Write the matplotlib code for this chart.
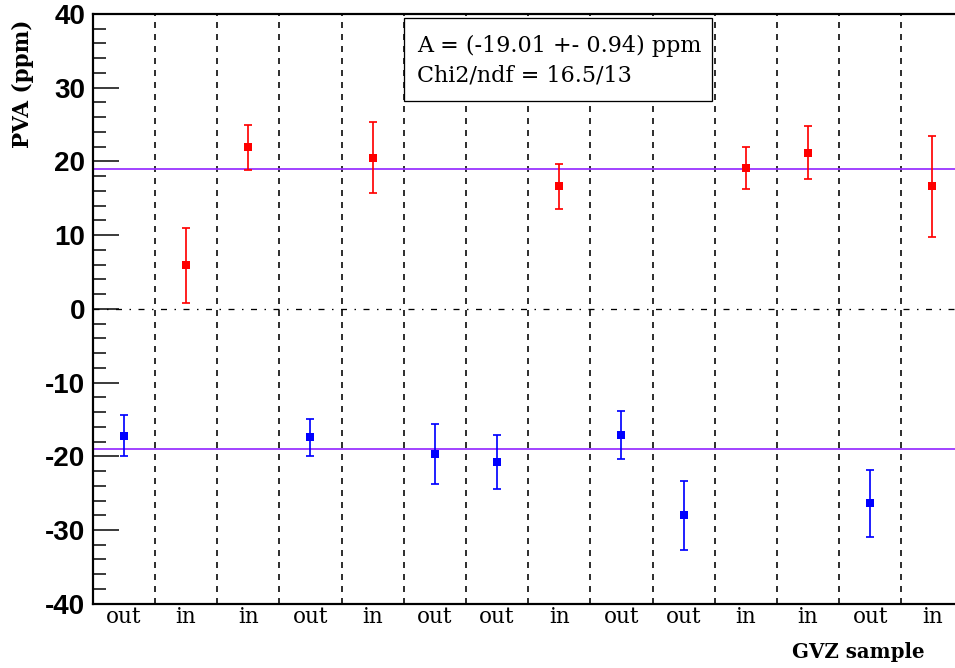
import matplotlib
matplotlib.use("Agg")
import matplotlib.pyplot as plt
import numpy as np
from matplotlib.patches import Rectangle

# ---------------- data ----------------
samples = ["out", "in", "in", "out", "in", "out", "out", "in",
           "out", "out", "in", "in", "out", "in"]
pva = [-17.2, 5.9, 21.9, -17.4, 20.5, -19.7, -20.8, 16.6,
       -17.1, -28.0, 19.1, 21.2, -26.4, 16.6]
pva_err = [2.8, 5.1, 3.0, 2.5, 4.8, 4.1, 3.7, 3.0,
           3.3, 4.7, 2.8, 3.6, 4.6, 6.8]
fit_A = -19.01
fit_A_err = 0.94
chi2 = 16.5
ndf = 13
y_ticks = [-40, -30, -20, -10, 0, 10, 20, 30, 40]

# ---------------- figure ----------------
W, H = 955, 668
DPI = 100
plt.rcParams['lines.scale_dashes'] = False
plt.rcParams['axes.unicode_minus'] = False
fig = plt.figure(figsize=(W / DPI, H / DPI), dpi=DPI)

def px(v):
    return v * 72.0 / DPI

ax_l, ax_r, ax_t, ax_b = 92.7, 963.6, 14.0, 603.7
ax = fig.add_axes([ax_l / W, 1 - ax_b / H, (ax_r - ax_l) / W, (ax_b - ax_t) / H])

n = len(samples)
x = np.arange(1, n + 1)
ax.set_xlim(0.5, n + 0.5)
ax.set_ylim(-40, 40)

# bin separators
for b in np.arange(1.5, n, 1.0):
    ax.axvline(b, color='black', lw=px(1.6), linestyle=(0, (px(6), px(6))), zorder=1)

# zero line (dash-dot)
ax.axhline(0, color='black', lw=px(1.3),
           linestyle=(0, (px(6), px(7.5), px(1.5), px(7.5))), zorder=1)

# fit lines
ax.axhline(-fit_A, color='#9933ff', lw=px(1.8), zorder=2)
ax.axhline(fit_A, color='#9933ff', lw=px(1.8), zorder=2)

# points
vals = np.array(pva)
errs = np.array(pva_err)
is_in = np.array([s == "in" for s in samples])
for mask, col in [(is_in, '#ff0000'), (~is_in, '#0000ff')]:
    ax.errorbar(x[mask], vals[mask], yerr=errs[mask], fmt='none', ecolor=col,
                elinewidth=px(1.7), capsize=px(3.7), capthick=px(1.7), zorder=3)
    ax.plot(x[mask], vals[mask], linestyle='none', marker='s', color=col,
            ms=px(8.0), mew=0, zorder=4)

# axes styling
for s in ['left', 'bottom', 'top']:
    ax.spines[s].set_linewidth(px(2.2))
ax.spines['right'].set_visible(False)

ax.set_yticks(y_ticks)
ax.set_yticks(np.arange(-40, 41, 2), minor=True)
ax.tick_params(axis='y', which='major', direction='in', length=px(26), width=px(1.5),
               pad=px(7.7), labelsize=20)
ax.tick_params(axis='y', which='minor', direction='in', length=px(13), width=px(1.5))
for lab in ax.get_yticklabels():
    lab.set_fontfamily('Liberation Sans')
    lab.set_fontweight('bold')

ax.set_xticks(x)
ax.set_xticklabels(samples, fontfamily='DejaVu Serif', fontsize=15.5)
ax.tick_params(axis='x', which='both', length=0, pad=px(2.5))
ax.xaxis.set_minor_locator(matplotlib.ticker.NullLocator())

# axis titles
fig.text(925 / W, 1 - 658 / H, "GVZ sample", ha='right', va='baseline',
         fontfamily='DejaVu Serif', fontweight='bold', fontsize=14.2)
fig.text(28.7 / W, 1 - 20 / H, "PVA (ppm)", rotation=90, rotation_mode='anchor',
         ha='right', va='baseline', fontfamily='DejaVu Serif', fontweight='bold',
         fontsize=15.5)

# fit result box
bx0, bx1, by0, by1 = 404.3, 711.5, 18.0, 100.7
fig.patches.append(Rectangle((bx0 / W, 1 - by1 / H), (bx1 - bx0) / W, (by1 - by0) / H,
                             transform=fig.transFigure, facecolor='white',
                             edgecolor='black', lw=px(1.3), zorder=5))
fig.text(416.7 / W, 1 - 52.3 / H, f"A = ({fit_A:.2f} +- {fit_A_err:.2f}) ppm",
         ha='left', va='baseline', fontfamily='DejaVu Serif', fontsize=16, zorder=6)
fig.text(416.7 / W, 1 - 81.7 / H, f"Chi2/ndf = {chi2:.1f}/{ndf}",
         ha='left', va='baseline', fontfamily='DejaVu Serif', fontsize=16, zorder=6)

fig.savefig("out.png", dpi=DPI)
